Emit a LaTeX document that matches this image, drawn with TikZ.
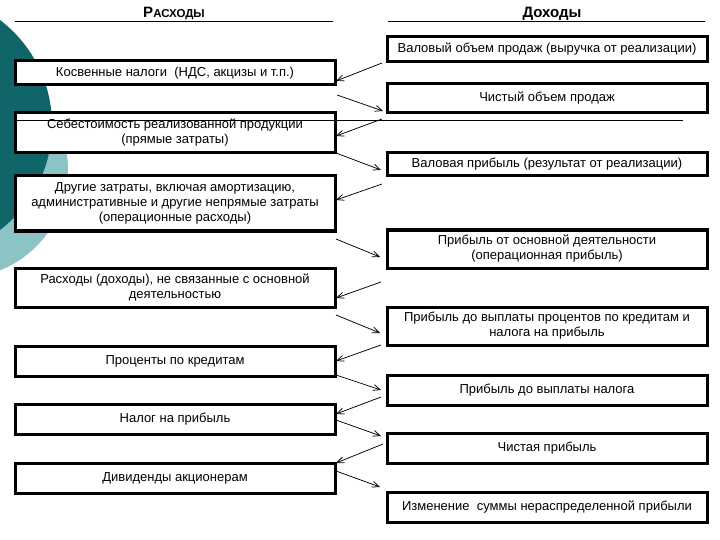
\documentclass[tikz,border=0pt]{standalone}
\usepackage{fontspec}
\setmainfont{Liberation Sans}
\usetikzlibrary{arrows.meta}
\definecolor{darkteal}{RGB}{16,101,104}
\definecolor{lightteal}{RGB}{140,196,198}
\begin{document}
\begin{tikzpicture}[x=1pt,y=-1pt,
  box/.style={draw, line width=3pt, fill=white, align=center, inner sep=0pt, outer sep=0pt,
    minimum width=320pt, font=\fontsize{13}{15}\selectfont},
  arr/.style={-{Straight Barb[length=7pt,width=6pt]}, line width=0.75pt},
  hdr/.style={font=\bfseries\fontsize{15}{17}\selectfont, anchor=base, inner sep=0pt},
  rule/.style={line width=0.8pt}]
\useasboundingbox (0,0) rectangle (720,540);
\begin{scope}
\clip (0,0) rectangle (720,540);
\fill[lightteal] (-40,170) circle[radius=108pt];
\fill[darkteal] (-80,125) circle[radius=132pt];
\end{scope}

% headers
\node[hdr] (hL) at (174,18) {Р{\fontsize{11.5}{13}\selectfont АСХОДЫ}};
\node[hdr] (hR) at (552,18) {Доходы};
\draw[rule] (15,21) -- (333,21);
\draw[rule] (388,21) -- (705,21);

% left boxes
\node[box, minimum height=24pt] (L1) at (175,73) {Косвенные налоги\ \ (НДС, акцизы и т.п.)};
\node[box, minimum height=40pt] (L2) at (175,133) {Себестоимость реализованной продукции\\(прямые затраты)};
\node[box, minimum height=55pt] (L3) at (175,203.5) {Другие затраты, включая амортизацию,\\административные и другие непрямые затраты\\(операционные расходы)};
\node[box, minimum height=39pt] (L4) at (175,287.5) {Расходы (доходы), не связанные с основной\\деятельностью};
\node[box, minimum height=30pt] (L5) at (175,361) {Проценты по кредитам};
\node[box, minimum height=30pt] (L6) at (175,419) {Налог на прибыль};
\node[box, minimum height=30pt] (L7) at (175,478) {Дивиденды акционерам};

% right boxes
\node[box, minimum height=25pt] (R1) at (547,49.5) {Валовый объем продаж (выручка от реализации)};
\node[box, minimum height=29pt] (R2) at (547,98.5) {Чистый объем продаж};
\node[box, minimum height=23pt] (R3) at (547,164.5) {Валовая прибыль (результат от реализации)};
\node[box, minimum height=38pt] (R4) at (547,249) {Прибыль от основной деятельности\\(операционная прибыль)};
\node[box, minimum height=38pt] (R5) at (547,326) {Прибыль до выплаты процентов по кредитам и\\налога на прибыль};
\node[box, minimum height=30pt] (R6) at (547,390) {Прибыль до выплаты налога};
\node[box, minimum height=30pt] (R7) at (547,448) {Чистая прибыль};
\node[box, minimum height=30pt] (R8) at (547,507) {Изменение\ \ суммы нераспределенной прибыли};

\draw[rule] (15,120) -- (683,120);

% arrows
\draw[arr] ([shift={(-5,1)}]R1.south west) -- ([shift={(1,8)}]L1.east);
\draw[arr] ([shift={(2,10)}]L1.south east) -- ([shift={(-4,-2)}]R2.south west);
\draw[arr] ([shift={(-5,6)}]R2.south west) -- ([shift={(1,3)}]L2.east);
\draw[arr] ([shift={(1,0)}]L2.south east) -- ([shift={(-6,5.5)}]R3.west);
\draw[arr] ([shift={(-5,8)}]R3.south west) -- ([shift={(1,-3.5)}]L3.east);
\draw[arr] ([shift={(1,8)}]L3.south east) -- ([shift={(-7,8)}]R4.west);
\draw[arr] ([shift={(-6,14)}]R4.south west) -- ([shift={(1,10.5)}]L4.east);
\draw[arr] ([shift={(1,8)}]L4.south east) -- ([shift={(-7,7)}]R5.west);
\draw[arr] ([shift={(-6,0)}]R5.south west) -- ([shift={(1,0)}]L5.east);
\draw[arr] ([shift={(1,-1)}]L5.south east) -- ([shift={(-6,0)}]R6.west);
\draw[arr] ([shift={(-6,7)}]R6.west) -- ([shift={(1,-5)}]L6.east);
\draw[arr] ([shift={(1,1)}]L6.east) -- ([shift={(-6,-12)}]R7.west);
\draw[arr] ([shift={(-4,-4)}]R7.west) -- ([shift={(1,0)}]L7.north east);
\draw[arr] ([shift={(1,8)}]L7.north east) -- ([shift={(-7,-5)}]R8.north west);
\end{tikzpicture}
\end{document}
